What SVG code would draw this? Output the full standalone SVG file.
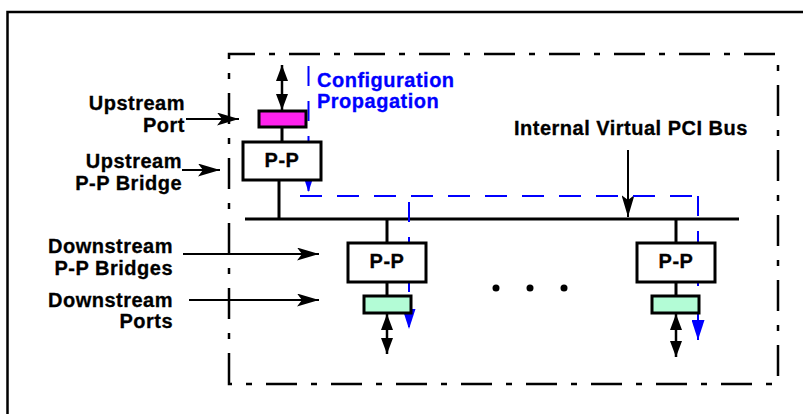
<svg xmlns="http://www.w3.org/2000/svg" width="803" height="414" viewBox="0 0 803 414">
<style>
text{font-family:"Liberation Sans",Arial,Helvetica,sans-serif;font-weight:bold;font-size:20px;letter-spacing:0.5px;fill:#000;stroke:#000;stroke-width:0.3px}
.lbl{text-anchor:end}
.blue{fill:#0000ff;stroke:#0000ff}
.pp{text-anchor:middle}
.box{fill:#fff;stroke:#000;stroke-width:3}
.port-up{fill:#ff22ee;stroke:#000;stroke-width:3}
.port-dn{fill:#b3fcd6;stroke:#000;stroke-width:3}
.wire{stroke:#000;stroke-width:3;fill:none}
.arr{stroke:#000;stroke-width:2;fill:none;marker-end:url(#ah)}
.dbl{stroke:#000;stroke-width:2.5;fill:none;marker-start:url(#dh);marker-end:url(#dh)}
.cfg{stroke:#0000ff;stroke-width:2;fill:none;stroke-dasharray:22 15}
.cfga{stroke:#0000ff;stroke-width:2;fill:none;stroke-dasharray:20 15;marker-end:url(#bh)}
</style>
<defs>
<marker id="ah" viewBox="0 0 22 13" refX="22" refY="6.5" markerWidth="22" markerHeight="13" markerUnits="userSpaceOnUse" orient="auto">
<path d="M0,0 L22,6.5 L0,13 L5,6.5 z" fill="#000"/>
</marker>
<marker id="dh" viewBox="0 0 16 12" refX="16" refY="6" markerWidth="16" markerHeight="12" markerUnits="userSpaceOnUse" orient="auto-start-reverse">
<path d="M0,0 L16,6 L0,12 z" fill="#000"/>
</marker>
<marker id="bh" viewBox="0 0 20 13" refX="20" refY="6.5" markerWidth="20" markerHeight="13" markerUnits="userSpaceOnUse" orient="auto">
<path d="M0,0 L20,6.5 L0,13 z" fill="#0000ff"/>
</marker>
</defs>
<rect width="803" height="414" fill="#fff"/>
<g id="frame">
<path d="M7.5,414 V12 H803" fill="none" stroke="#000" stroke-width="2.5"/>
</g>
<g id="switch-boundary">
<path d="M229,384 V54 H778 V384 Z" fill="none" stroke="#000" stroke-width="2.5" stroke-dasharray="31 14 6 14"/>
</g>
<g id="connectors">
<line class="wire" x1="245" y1="219" x2="739" y2="219"/>
<line class="wire" x1="282" y1="127" x2="282" y2="142"/>
<line class="wire" x1="279" y1="180" x2="279" y2="219"/>
<line class="wire" x1="387" y1="219" x2="387" y2="243"/>
<line class="wire" x1="387" y1="282" x2="387" y2="296"/>
<line class="wire" x1="676" y1="219" x2="676" y2="243"/>
<line class="wire" x1="676" y1="282" x2="676" y2="296"/>
<line class="dbl" x1="282" y1="65" x2="282" y2="110"/>
<line class="dbl" x1="387" y1="314" x2="387" y2="354"/>
<line class="dbl" x1="676" y1="314" x2="676" y2="357"/>
<line class="arr" x1="186" y1="119" x2="239" y2="119"/>
<line class="arr" x1="182" y1="170" x2="220" y2="170"/>
<line class="arr" x1="183" y1="254" x2="319" y2="254"/>
<line class="arr" x1="189" y1="300" x2="319" y2="300"/>
<line class="arr" x1="628" y1="150" x2="628" y2="217"/>
<line class="cfga" x1="308.5" y1="66" x2="308.5" y2="192"/>
<line class="cfg" x1="300" y1="196" x2="702" y2="196"/>
<line class="cfga" x1="409" y1="202" x2="409" y2="329"/>
<line class="cfga" x1="698" y1="196" x2="698" y2="340"/>
</g>
<g id="upstream-port"><rect class="port-up" x="259" y="111" width="47" height="16"/></g>
<g id="upstream-bridge"><rect class="box" x="243" y="142" width="78" height="38"/><text class="pp" x="282" y="167">P-P</text></g>
<g id="downstream-bridge-1"><rect class="box" x="348" y="243" width="78" height="39"/><text class="pp" x="387" y="268">P-P</text></g>
<g id="downstream-port-1"><rect class="port-dn" x="364" y="296" width="47" height="17"/></g>
<g id="downstream-bridge-2"><rect class="box" x="637" y="243" width="78" height="39"/><text class="pp" x="676" y="268">P-P</text></g>
<g id="downstream-port-2"><rect class="port-dn" x="652" y="296" width="47" height="17"/></g>
<g id="ellipsis">
<circle cx="496" cy="288" r="3.5"/><circle cx="530" cy="288" r="3.5"/><circle cx="564" cy="288" r="3.5"/>
</g>
<g id="labels">
<text class="lbl" x="185" y="110">Upstream</text>
<text class="lbl" x="185" y="132">Port</text>
<text class="lbl" x="182" y="168">Upstream</text>
<text class="lbl" x="182" y="190">P-P Bridge</text>
<text class="lbl" x="173" y="253">Downstream</text>
<text class="lbl" x="173" y="275">P-P Bridges</text>
<text class="lbl" x="173" y="307">Downstream</text>
<text class="lbl" x="173" y="328">Ports</text>
<text x="514" y="135">Internal Virtual PCI Bus</text>
<text class="blue" x="317" y="87">Configuration</text>
<text class="blue" x="317" y="108">Propagation</text>
</g>
</svg>
